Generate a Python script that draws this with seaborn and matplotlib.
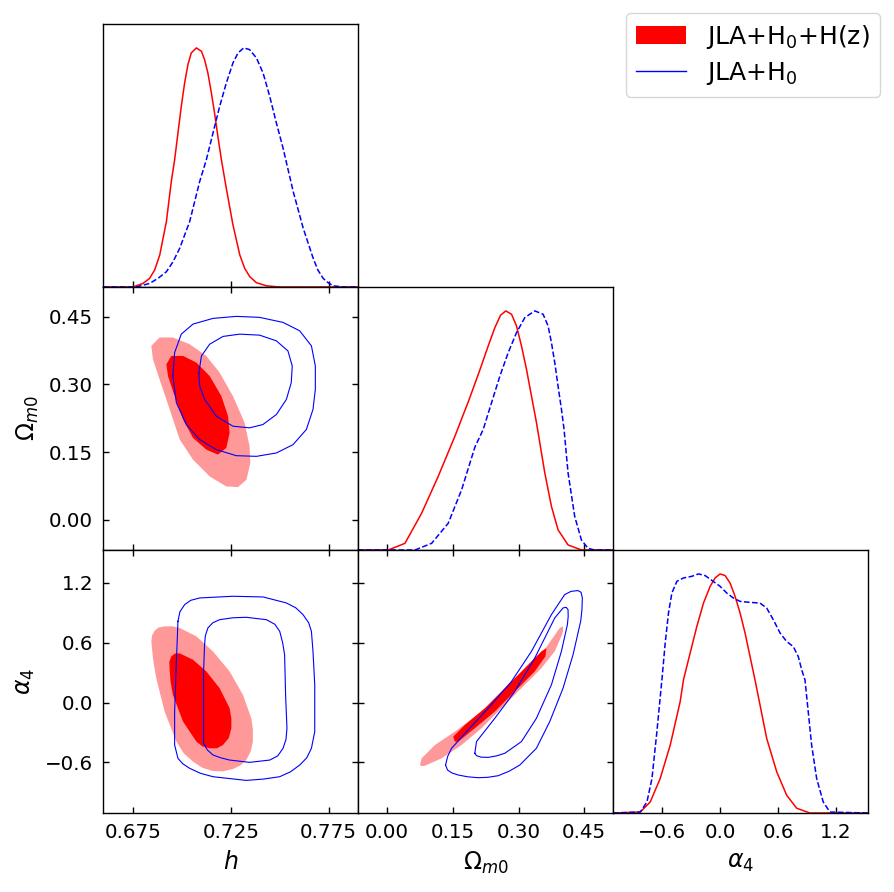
import numpy as np
import matplotlib
matplotlib.use("Agg")
import matplotlib.pyplot as plt
import seaborn as sns
from matplotlib.patches import Patch
from matplotlib.lines import Line2D

# ------------------------------------------------------------------
# 1D marginals (peak normalised to 1)
# ------------------------------------------------------------------
h_red_x = [0.660, 0.675, 0.6801, 0.6835, 0.6861, 0.6887, 0.6921, 0.6946, 0.6963, 0.6980,
           0.6997, 0.7014, 0.7031, 0.7048, 0.7074, 0.7100, 0.7116, 0.7133, 0.7151, 0.7167,
           0.7184, 0.7202, 0.7227, 0.7261, 0.7296, 0.7321, 0.7347, 0.7381, 0.7432, 0.750,
           0.790]
h_red_p = [0.0, 0.0, 0.015, 0.036, 0.071, 0.134, 0.274, 0.441, 0.532, 0.644,
           0.755, 0.853, 0.930, 0.979, 1.0, 0.986, 0.951, 0.895, 0.811, 0.728,
           0.630, 0.532, 0.413, 0.260, 0.134, 0.078, 0.043, 0.018, 0.005, 0.0,
           0.0]
h_blue_x = [0.660, 0.6767, 0.6835, 0.6878, 0.6921, 0.6955, 0.6989, 0.7040, 0.7091, 0.7125,
            0.7159, 0.7193, 0.7227, 0.7261, 0.7287, 0.7316, 0.7346, 0.7381, 0.7415, 0.7449,
            0.7483, 0.7517, 0.7569, 0.7620, 0.7671, 0.7695, 0.7722, 0.7747, 0.7773, 0.7824,
            0.790]
h_blue_p = [0.0, 0.0, 0.015, 0.036, 0.064, 0.106, 0.162, 0.274, 0.441, 0.532,
            0.644, 0.755, 0.853, 0.937, 0.979, 1.0, 0.993, 0.958, 0.895, 0.797,
            0.686, 0.581, 0.399, 0.246, 0.120, 0.071, 0.036, 0.018, 0.005, 0.0,
            0.0]

om_red_x = [-0.067, 0.0023, 0.0404, 0.0785, 0.1164, 0.1546, 0.187, 0.212, 0.2306, 0.2459,
            0.2589, 0.271, 0.284, 0.2954, 0.3068, 0.3183, 0.3297, 0.3411, 0.3601, 0.3753,
            0.3905, 0.4133, 0.4438, 0.516]
om_red_p = [0.0, 0.0, 0.028, 0.154, 0.308, 0.476, 0.629, 0.755, 0.853, 0.930,
            0.982, 1.0, 0.986, 0.937, 0.853, 0.755, 0.643, 0.532, 0.322, 0.182,
            0.084, 0.021, 0.0, 0.0]
om_blue_x = [-0.067, 0.0632, 0.1014, 0.1393, 0.1699, 0.2002, 0.2192, 0.2383, 0.2573, 0.2763,
             0.2954, 0.3144, 0.3372, 0.3562, 0.3676, 0.3753, 0.3829, 0.3904, 0.3982, 0.4041,
             0.4133, 0.4285, 0.4438, 0.4589, 0.4741, 0.516]
om_blue_p = [0.0, 0.0, 0.028, 0.112, 0.252, 0.430, 0.504, 0.616, 0.727, 0.825,
             0.909, 0.972, 1.0, 0.986, 0.937, 0.867, 0.783, 0.685, 0.588, 0.504,
             0.322, 0.140, 0.042, 0.007, 0.0, 0.0]

a4_red_x = [-1.108, -0.826, -0.723, -0.620, -0.516, -0.413, -0.379, -0.310, -0.241, -0.172,
            -0.103, -0.052, 0.0, 0.052, 0.103, 0.155, 0.207, 0.258, 0.310, 0.361,
            0.482, 0.586, 0.689, 0.792, 0.929, 1.53]
a4_red_p = [0.0, 0.004, 0.046, 0.144, 0.284, 0.466, 0.557, 0.669, 0.780, 0.878,
            0.948, 0.983, 1.0, 0.993, 0.962, 0.906, 0.836, 0.753, 0.654, 0.557,
            0.312, 0.172, 0.074, 0.020, 0.0, 0.0]
a4_blue_x = [-1.108, -0.826, -0.757, -0.705, -0.654, -0.602, -0.568, -0.534, -0.499, -0.447,
             -0.379, -0.292, -0.224, -0.155, -0.086, 0.0, 0.069, 0.138, 0.207, 0.310,
             0.413, 0.482, 0.551, 0.620, 0.689, 0.757, 0.809, 0.844, 0.878, 0.947,
             0.999, 1.067, 1.136, 1.53]
a4_blue_p = [0.0, 0.004, 0.046, 0.144, 0.340, 0.557, 0.711, 0.836, 0.920, 0.969,
             0.983, 0.990, 1.0, 0.993, 0.973, 0.948, 0.920, 0.899, 0.885, 0.881,
             0.878, 0.857, 0.808, 0.753, 0.717, 0.696, 0.654, 0.599, 0.557, 0.284,
             0.144, 0.046, 0.004, 0.0]

# ------------------------------------------------------------------
# 2D contours (68% / 95% outlines)
# ------------------------------------------------------------------
# h vs Omega_m0
hom_red95_h = [0.6844, 0.6886, 0.6954, 0.7040, 0.7125, 0.7193, 0.7261, 0.7321, 0.7346, 0.7350,
               0.7330, 0.7287, 0.7227, 0.7142, 0.7057, 0.6989, 0.6938, 0.6886, 0.6852]
hom_red95_om = [0.3855, 0.4041, 0.4041, 0.3892, 0.3632, 0.3262, 0.2741, 0.2149, 0.1628, 0.1259,
                0.0887, 0.0725, 0.0738, 0.0961, 0.1332, 0.1778, 0.2445, 0.3113, 0.3558]
hom_red68_h = [0.6921, 0.6946, 0.7006, 0.7074, 0.7142, 0.7202, 0.7236, 0.7244, 0.7227, 0.7184,
               0.7125, 0.7057, 0.7006, 0.6963, 0.6929]
hom_red68_om = [0.3447, 0.3632, 0.3632, 0.3485, 0.3187, 0.2741, 0.2296, 0.1927, 0.1593, 0.1444,
                0.1555, 0.1815, 0.2223, 0.2741, 0.3187]
hom_blue95_h = [0.6954, 0.6963, 0.6997, 0.7057, 0.7159, 0.7278, 0.7397, 0.7517, 0.7602, 0.7662,
                0.7682, 0.7682, 0.7670, 0.7636, 0.7568, 0.7483, 0.7381, 0.7278, 0.7176, 0.7091,
                0.7023, 0.6972]
hom_blue95_om = [0.3187, 0.3707, 0.4115, 0.4338, 0.4464, 0.4509, 0.4487, 0.4375, 0.4189, 0.3855,
                 0.3409, 0.2891, 0.2445, 0.2000, 0.1666, 0.1481, 0.1406, 0.1421, 0.1555, 0.1778,
                 0.2111, 0.2595]
hom_blue68_h = [0.7087, 0.7100, 0.7142, 0.7210, 0.7295, 0.7397, 0.7483, 0.7542, 0.7564, 0.7559,
                0.7534, 0.7483, 0.7414, 0.7346, 0.7261, 0.7176, 0.7116, 0.7091]
hom_blue68_om = [0.3262, 0.3632, 0.3892, 0.4064, 0.4115, 0.4093, 0.3966, 0.3743, 0.3409, 0.3040,
                 0.2668, 0.2334, 0.2111, 0.2038, 0.2074, 0.2296, 0.2668, 0.2964]

# h vs alpha_4
ha_red95_h = [0.6844, 0.6853, 0.6869, 0.6912, 0.6972, 0.7010, 0.7057, 0.7105, 0.7159, 0.7210,
              0.7261, 0.7300, 0.7329, 0.7352, 0.7363, 0.7363, 0.7355, 0.7312, 0.7244, 0.7159,
              0.7074, 0.6989, 0.6950, 0.6912, 0.6880, 0.6861, 0.6848]
ha_red95_a = [0.613, 0.430, 0.245, -0.091, -0.392, -0.510, -0.593, -0.655, -0.687, -0.690,
              -0.667, -0.630, -0.577, -0.490, -0.392, -0.270, -0.158, 0.077, 0.312, 0.513,
              0.664, 0.748, 0.765, 0.764, 0.752, 0.721, 0.675]
ha_red68_h = [0.6937, 0.6942, 0.6954, 0.7006, 0.7074, 0.7105, 0.7142, 0.7180, 0.7210, 0.7240,
              0.7253, 0.7253, 0.7244, 0.7193, 0.7125, 0.7057, 0.6989, 0.6965, 0.6946, 0.6936]
ha_red68_a = [0.345, 0.210, 0.077, -0.191, -0.392, -0.440, -0.459, -0.458, -0.426, -0.355,
              -0.258, -0.160, -0.057, 0.144, 0.312, 0.429, 0.493, 0.492, 0.463, 0.410]
ha_blue95_h = [0.6980, 0.6990, 0.7014, 0.7045, 0.7091, 0.7261, 0.7415, 0.7534, 0.7582, 0.7619,
               0.7648, 0.7662, 0.7670, 0.7679, 0.7679, 0.7662, 0.7638, 0.7602, 0.7555, 0.7500,
               0.7415, 0.7329, 0.7159, 0.7095, 0.7040, 0.7005, 0.6980, 0.6963, 0.6963, 0.6972]
ha_blue95_a = [0.815, 0.910, 0.982, 1.025, 1.049, 1.066, 1.059, 0.999, 0.950, 0.882,
               0.800, 0.714, 0.513, 0.178, -0.292, -0.459, -0.555, -0.627, -0.695, -0.744,
               -0.768, -0.781, -0.744, -0.710, -0.660, -0.615, -0.560, -0.426, -0.091, 0.412]
ha_blue68_h = [0.7116, 0.7120, 0.7133, 0.7158, 0.7193, 0.7260, 0.7329, 0.7432, 0.7475, 0.7500,
               0.7515, 0.7525, 0.7530, 0.7537, 0.7532, 0.7517, 0.7490, 0.7449, 0.7346, 0.7244,
               0.7200, 0.7159, 0.7130, 0.7111, 0.7111, 0.7111]
ha_blue68_a = [0.580, 0.670, 0.748, 0.800, 0.831, 0.850, 0.855, 0.831, 0.785, 0.714,
               0.600, 0.479, 0.077, -0.258, -0.370, -0.459, -0.535, -0.577, -0.600, -0.577,
               -0.555, -0.526, -0.475, -0.409, -0.091, 0.312]

# Omega_m0 vs alpha_4
oa_red95_om = [0.0746, 0.0784, 0.1088, 0.1545, 0.2154, 0.2686, 0.3219, 0.3676, 0.3942, 0.4018,
               0.4020, 0.3995, 0.3828, 0.3523, 0.3067, 0.2610, 0.2154, 0.1697, 0.1240, 0.0860,
               0.0790]
oa_red95_a = [-0.627, -0.560, -0.426, -0.292, -0.091, 0.111, 0.312, 0.580, 0.748, 0.764,
              0.725, 0.680, 0.513, 0.345, 0.144, -0.057, -0.258, -0.426, -0.560, -0.634,
              -0.638]
oa_red68_om = [0.1545, 0.1507, 0.1773, 0.2230, 0.2686, 0.3143, 0.3523, 0.3638, 0.3615, 0.3371,
               0.2915, 0.2458, 0.2001, 0.1621]
oa_red68_a = [-0.392, -0.342, -0.225, -0.057, 0.144, 0.345, 0.513, 0.546, 0.463, 0.312,
              0.111, -0.091, -0.258, -0.392]
oa_blue95_om = [0.1332, 0.1380, 0.1469, 0.1849, 0.2306, 0.2839, 0.3295, 0.3752, 0.4056, 0.4200,
                0.4361, 0.4430, 0.4459, 0.4450, 0.4421, 0.4246, 0.4018, 0.3714, 0.3409, 0.3029,
                0.2780, 0.2534, 0.2300, 0.2078, 0.1840, 0.1621, 0.1470, 0.1377]
oa_blue95_a = [-0.627, -0.540, -0.459, -0.275, -0.057, 0.211, 0.513, 0.882, 1.083, 1.115,
               1.123, 1.105, 1.049, 0.930, 0.815, 0.479, 0.144, -0.191, -0.459, -0.627,
               -0.690, -0.734, -0.750, -0.754, -0.745, -0.727, -0.705, -0.677]
oa_blue68_om = [0.2001, 0.2039, 0.2458, 0.2915, 0.3371, 0.3828, 0.4018, 0.4090, 0.4132, 0.4135,
                0.4117, 0.3980, 0.3752, 0.3409, 0.3067, 0.2686, 0.2500, 0.2306, 0.2150, 0.2039]
oa_blue68_a = [-0.509, -0.392, -0.158, 0.111, 0.446, 0.848, 0.949, 0.955, 0.932, 0.860,
               0.781, 0.513, 0.178, -0.158, -0.392, -0.509, -0.535, -0.550, -0.548, -0.533]

# axis settings
h_lim = (0.6597, 0.790)
om_lim = (-0.067, 0.516)
a4_lim = (-1.108, 1.53)
h_ticks = [0.675, 0.725, 0.775]
om_ticks = [0.00, 0.15, 0.30, 0.45]
a4_ticks = [-0.6, 0.0, 0.6, 1.2]

RED = '#ff0000'
RED_LIGHT = '#ff9999'
BLUE = '#0000ff'
TICK_FS = 14.3
LABEL_FS = 17


def closed(v):
    return list(v) + [v[0]]


def draw_1d(ax, xr, pr, xb, pb):
    sns.lineplot(x=xr, y=pr, ax=ax, color=RED, lw=1.1, estimator=None, sort=False)
    sns.lineplot(x=xb, y=pb, ax=ax, color=BLUE, lw=1.1, ls='--', estimator=None, sort=False)
    ax.set_ylim(0, 1.1)
    ax.set_yticks([])
    ax.tick_params(axis='x', direction='in', length=4.5, width=1, top=False, bottom=True)


def draw_2d(ax, red95, red68, blue95, blue68):
    ax.fill(*red95, color=RED_LIGHT, lw=0, zorder=1)
    ax.fill(*red68, color=RED, lw=0, zorder=2)
    for xs, ys in (blue95, blue68):
        sns.lineplot(x=closed(xs), y=closed(ys), ax=ax, color=BLUE, lw=0.8,
                     estimator=None, sort=False, zorder=3, solid_joinstyle='round')
    ax.tick_params(direction='in', length=4.5, width=1, top=True, right=True)


fig = plt.figure(figsize=(8.94, 8.92), dpi=100)
lefts = [103 / 894, 358 / 894, 613 / 894]
bottoms = [(892 - 287) / 892, (892 - 550) / 892, (892 - 813) / 892]
W, H = 255 / 894, 263 / 892

axes = {}
for i in range(3):
    for j in range(i + 1):
        ax = fig.add_axes([lefts[j], bottoms[i], W, H])
        for s in ax.spines.values():
            s.set_linewidth(1.0)
        axes[(i, j)] = ax

# diagonal
draw_1d(axes[(0, 0)], h_red_x, h_red_p, h_blue_x, h_blue_p)
draw_1d(axes[(1, 1)], om_red_x, om_red_p, om_blue_x, om_blue_p)
draw_1d(axes[(2, 2)], a4_red_x, a4_red_p, a4_blue_x, a4_blue_p)

# off diagonal
draw_2d(axes[(1, 0)], (hom_red95_h, hom_red95_om), (hom_red68_h, hom_red68_om),
        (hom_blue95_h, hom_blue95_om), (hom_blue68_h, hom_blue68_om))
draw_2d(axes[(2, 0)], (ha_red95_h, ha_red95_a), (ha_red68_h, ha_red68_a),
        (ha_blue95_h, ha_blue95_a), (ha_blue68_h, ha_blue68_a))
draw_2d(axes[(2, 1)], (oa_red95_om, oa_red95_a), (oa_red68_om, oa_red68_a),
        (oa_blue95_om, oa_blue95_a), (oa_blue68_om, oa_blue68_a))

lims = [h_lim, om_lim, a4_lim]
ticks = [h_ticks, om_ticks, a4_ticks]
names = ['$h$', r'$\Omega_{m0}$', r'$\alpha_4$']

for (i, j), ax in axes.items():
    ax.set_xlim(*lims[j])
    ax.set_xticks(ticks[j])
    if i != j:
        ax.set_ylim(*lims[i])
        ax.set_yticks(ticks[i])
    ax.set_xlabel('')
    ax.set_ylabel('')
    if i == 2:
        ax.set_xlabel(names[j], fontsize=LABEL_FS, labelpad=6)
        ax.tick_params(axis='x', labelsize=TICK_FS, pad=7)
    else:
        ax.tick_params(axis='x', labelbottom=False)
    if j == 0 and i > 0:
        ax.set_ylabel(names[i], fontsize=LABEL_FS, labelpad=6)
        ax.tick_params(axis='y', labelsize=TICK_FS, pad=7)
    elif i != j:
        ax.tick_params(axis='y', labelleft=False)

handles = [Patch(facecolor=RED, edgecolor='none'), Line2D([], [], color=BLUE, lw=1)]
fig.legend(handles, ['JLA+H$_0$+H(z)', 'JLA+H$_0$'], loc='upper right',
           bbox_to_anchor=(0.9843, 0.9858), fontsize=18, frameon=True,
           borderaxespad=0, handlelength=2.0, labelspacing=0.38)

fig.savefig('out.png', dpi=100)
